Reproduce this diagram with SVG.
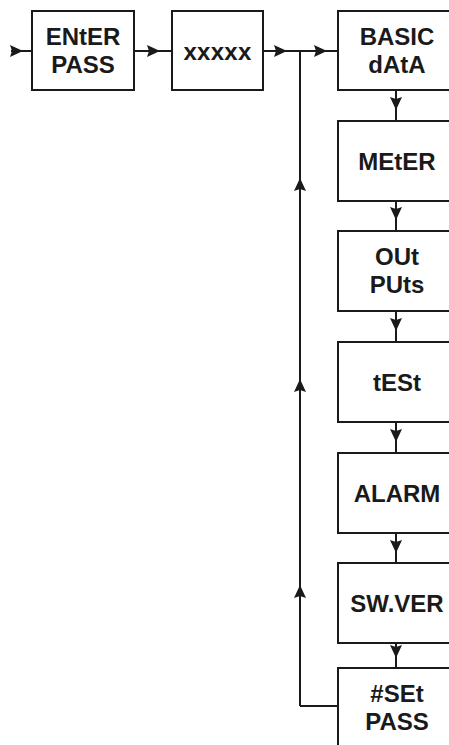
<svg xmlns="http://www.w3.org/2000/svg" width="449" height="745" viewBox="0 0 449 745">
  <style>
    .box { fill: #ffffff; stroke: #1a1a1a; stroke-width: 2; }
    .lbl { font-family: "Liberation Sans", Arial, sans-serif; font-weight: bold; font-size: 24px; fill: #1a1a1a; text-anchor: middle; }
    .wire { fill: none; stroke: #1a1a1a; stroke-width: 2; }
    .flow { marker-mid: url(#arrow); }
  </style>
  <defs>
    <marker id="arrow" markerUnits="userSpaceOnUse" viewBox="0 0 13 12" refX="13" refY="6" markerWidth="13" markerHeight="12" orient="auto">
      <path d="M0,0 L13,6 L0,12 L2,6 z" fill="#1a1a1a"/>
    </marker>
  </defs>

  <rect width="449" height="745" fill="#ffffff"/>

  <!-- connectors -->
  <g id="connectors">
    <path class="wire flow" d="M11 51 L23 51 L32 51"/>
    <path class="wire flow" d="M134 51 L160 51 L172 51"/>
    <path class="wire flow" d="M263 51 L287 51 L300 51"/>
    <path class="wire flow" d="M300 51 L327 51 L338 51"/>
    <path class="wire flow" d="M396 90 L396 110 L396 121"/>
    <path class="wire flow" d="M396 201 L396 220 L396 231"/>
    <path class="wire flow" d="M396 311 L396 331 L396 342"/>
    <path class="wire flow" d="M396 422 L396 442 L396 453"/>
    <path class="wire flow" d="M396 533 L396 553 L396 563"/>
    <path class="wire flow" d="M396 643 L396 658 L396 668"/>
    <!-- return path from #SEt PASS back to the main line -->
    <path class="wire" d="M339 706 L300 706"/>
    <path class="wire flow" d="M300 706 L300 585 L300 379 L300 178 L300 51"/>
  </g>

  <g id="enter-pass">
    <rect class="box" x="32" y="11" width="102" height="79"/>
    <text class="lbl" x="83" y="45">ENtER</text>
    <text class="lbl" x="83" y="73">PASS</text>
  </g>

  <g id="code">
    <rect class="box" x="172" y="11" width="91" height="79"/>
    <text class="lbl" x="217.5" y="60" letter-spacing="0.3">xxxxx</text>
  </g>

  <g id="basic-data">
    <rect class="box" x="338" y="11" width="118" height="79"/>
    <text class="lbl" x="397" y="45">BASIC</text>
    <text class="lbl" x="397" y="73">dAtA</text>
  </g>

  <g id="meter">
    <rect class="box" x="338" y="121" width="118" height="80"/>
    <text class="lbl" x="397" y="170">MEtER</text>
  </g>

  <g id="outputs">
    <rect class="box" x="338" y="231" width="118" height="80"/>
    <text class="lbl" x="397" y="265">OUt</text>
    <text class="lbl" x="397" y="293">PUts</text>
  </g>

  <g id="test">
    <rect class="box" x="338" y="342" width="118" height="80"/>
    <text class="lbl" x="397" y="391">tESt</text>
  </g>

  <g id="alarm">
    <rect class="box" x="338" y="453" width="118" height="80"/>
    <text class="lbl" x="397" y="502">ALARM</text>
  </g>

  <g id="sw-ver">
    <rect class="box" x="338" y="563" width="118" height="80"/>
    <text class="lbl" x="397" y="612">SW.VER</text>
  </g>

  <g id="set-pass">
    <rect class="box" x="338" y="668" width="118" height="90"/>
    <text class="lbl" x="397" y="702">#SEt</text>
    <text class="lbl" x="397" y="730">PASS</text>
  </g>
</svg>
